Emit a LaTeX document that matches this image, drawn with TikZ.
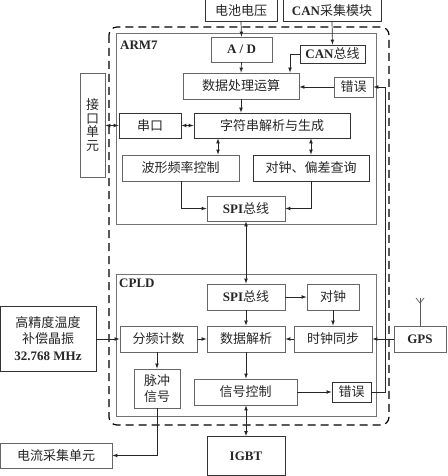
\documentclass[tikz,border=0pt]{standalone}
\usepackage{fontspec}
\setmainfont{Liberation Serif}
\newfontfamily\cjk{Noto Sans CJK SC}
\newcommand{\lat}[1]{{\rmfamily\bfseries #1}}
\tikzset{
    box/.style={draw=black!60,line width=0.9pt,inner sep=0pt,align=center,text=black!85,
        font=\fontsize{13}{16.5}\selectfont\cjk},
    darkbox/.style={box,draw=black!80},
    chip/.style={draw=black!55,line width=1pt},
    link/.style={draw=black!85,line width=0.7pt,-latex},
    both/.style={draw=black!85,line width=0.7pt,latex-latex},
    title/.style={inner sep=0pt,text=black!85,font=\fontsize{13}{16}\selectfont\rmfamily\bfseries}
}

\begin{document}
\begin{tikzpicture}[x=1pt,y=-1pt]
    \useasboundingbox (0,0) rectangle (447,476);
    % frames
    \draw[line width=1.2pt,dash pattern=on 8pt off 5pt,rounded corners=8pt] (109,27) rectangle (389,425);
    \draw[chip] (116,34) rectangle (376,224);
    \draw[chip] (116,274) rectangle (376,416);
    \node[title,anchor=west] (arm) at (120,45) {ARM7};
    \node[title,anchor=west] (cpld) at (119,283) {CPLD};
    % outside
    \node[darkbox,minimum width=72pt,minimum height=22pt] (bat) at (241,10.5) {电池电压};
    \node[darkbox,minimum width=98pt,minimum height=22pt] (canmod) at (332,10.5) {\lat{CAN}采集模块};
    \node[box,minimum width=25pt,minimum height=104pt,font=\fontsize{13}{13.6}\selectfont\cjk] (iface) at (92.5,125) {接\\口\\单\\元};
    \node[darkbox,minimum width=96pt,minimum height=65pt] (osc) at (48,338.5) {高精度温度\\补偿晶振\\\lat{32.768 MHz}};
    \node[box,minimum width=52pt,minimum height=26pt] (gps) at (420,339) {\lat{GPS}};
    \node[box,minimum width=112pt,minimum height=25pt] (cur) at (56,455.5) {电流采集单元};
    \node[darkbox,minimum width=78pt,minimum height=39pt] (igbt) at (246,456) {\lat{IGBT}};
    % ARM7
    \node[box,minimum width=61pt,minimum height=25pt] (ad) at (241.5,49.5) {\lat{A / D}};
    \node[darkbox,minimum width=65pt,minimum height=18pt] (canbus) at (332.5,54) {\lat{CAN}总线};
    \node[box,minimum width=116pt,minimum height=26pt] (calc) at (241,86) {数据处理运算};
    \node[box,minimum width=39pt,minimum height=20pt] (errup) at (353.5,87) {错误};
    \node[darkbox,minimum width=62pt,minimum height=25pt] (uart) at (150,125.5) {串口};
    \node[darkbox,minimum width=156pt,minimum height=25pt] (parse) at (272,125.5) {字符串解析与生成};
    \node[box,minimum width=117pt,minimum height=26pt] (wave) at (180.5,168) {波形频率控制};
    \node[darkbox,minimum width=116pt,minimum height=26pt] (query) at (311,168) {对钟、偏差查询};
    \node[box,minimum width=78pt,minimum height=25pt] (spiup) at (246,208.5) {\lat{SPI}总线};
    % CPLD
    \node[box,minimum width=78pt,minimum height=26pt] (spidown) at (246,297) {\lat{SPI}总线};
    \node[box,minimum width=52pt,minimum height=26pt] (clk) at (333,297) {对钟};
    \node[box,minimum width=77pt,minimum height=26pt] (div) at (158.5,339) {分频计数};
    \node[box,minimum width=78pt,minimum height=26pt] (data) at (246,339) {数据解析};
    \node[box,minimum width=78pt,minimum height=26pt] (sync) at (333,339) {时钟同步};
    \node[box,minimum width=46pt,minimum height=39pt] (pulse) at (157,388.5) {脉冲\\信号};
    \node[box,minimum width=103pt,minimum height=26pt] (sig) at (245.5,392) {信号控制};
    \node[darkbox,minimum width=39pt,minimum height=20pt] (errdown) at (351.5,392) {错误};
    % antenna
    \coordinate (anttop) at (420,298);
    \draw[draw=black!65,line width=0.7pt] (gps.north) -- (anttop);
    \draw[draw=black!65,line width=0.7pt] (416,298) -- (420,303) -- (424,298);
    % connectors
    \draw[link] (bat.south) -- (ad.north);
    \draw[link] (canmod.south) -- (canbus.north);
    \draw[link] (canbus.west) -| ([xshift=49pt]calc.north);
    \draw[link] (ad.south) -- (calc.north);
    \draw[link] (errup.west) -- (errup.west -| calc.east);
    \draw[link] (calc.south) -- (calc.south |- parse.north);
    \draw[both] (iface.east |- uart.west) -- (uart.west);
    \draw[both] (uart.east) -- (parse.west);
    \draw[both] ([xshift=37.5pt]wave.north) -- ([xshift=37.5pt]wave.north |- parse.south);
    \draw[both] (query.north) -- (query.north |- parse.south);
    \draw[link] ([xshift=0.5pt]wave.south) |- (spiup.west);
    \draw[link] (query.south) |- (spiup.east);
    \draw[both] (spiup.south) -- (spidown.north);
    \draw[link] (spidown.east) -- (clk.west);
    \draw[link] (spidown.south) -- (data.north);
    \draw[link] (clk.south) -- (sync.north);
    \draw[link] (sync.west) -- (data.east);
    \draw[link] (div.east) -- (data.west);
    \draw[link] (osc.east |- div.west) -- (div.west);
    \draw[link] (gps.west) -- (sync.east);
    \draw[link] (div.south -| pulse.north) -- (pulse.north);
    \draw[link] (data.south) -- (data.south |- sig.north);
    \draw[link] (sig.east) -- (errdown.west);
    \draw[both] (sig.south -| igbt.north) -- (igbt.north);
    \draw[link] (errdown.east) -- (385,392) -- (385,87) -- (errup.east);
    \draw[link] (pulse.south) |- (cur.east);
\end{tikzpicture}
\end{document}
